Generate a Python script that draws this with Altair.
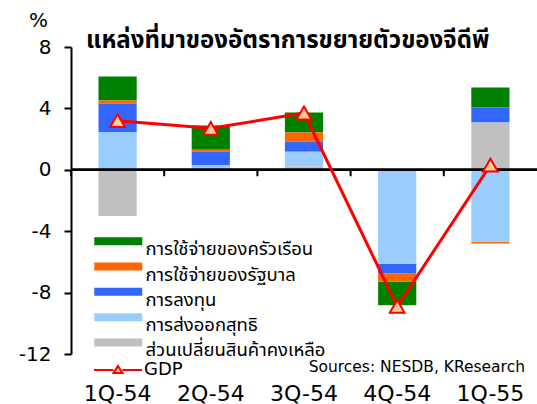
import altair as alt
import pandas as pd

quarters = ["1Q-54", "2Q-54", "3Q-54", "4Q-54", "1Q-55"]
household = [1.56, 1.58, 1.30, -1.54, 1.30]
government = [0.21, 0.11, 0.61, -0.54, -0.11]
investment = [1.85, 0.91, 0.65, -0.63, 0.98]
net_exports = [2.46, 0.28, 0.96, -6.12, -4.69]
inventory = [-3.01, 0.0, 0.21, 0.0, 3.08]
gdp = [3.2, 2.7, 3.7, -8.9, 0.3]

series_names = ["การใช้จ่ายของครัวเรือน", "การใช้จ่ายของรัฐบาล", "การลงทุน",
                "การส่งออกสุทธิ", "ส่วนเปลี่ยนสินค้าคงเหลือ"]
series_colors = ["#008000", "#FF6600", "#3366FF", "#99CCFF", "#C0C0C0"]
stack_order = [4, 3, 2, 1, 0]
title_text = "แหล่งที่มาของอัตราการขยายตัวของจีดีพี"
source_text = "Sources: NESDB, KResearch"
y_ticks = [-12, -8, -4, 0, 4, 8]

rows = []
for name, vals, order in zip(series_names,
                             [household, government, investment, net_exports, inventory],
                             stack_order):
    for q, v in zip(quarters, vals):
        rows.append({"q": q, "series": name, "value": v, "order": order})
bars_df = pd.DataFrame(rows)
gdp_df = pd.DataFrame({"q": quarters, "gdp": gdp, "series": ["GDP"] * len(quarters)})

FONT = "DejaVu Sans, Verdana, sans-serif"
THAI = "Tahoma, Noto Sans Thai, Loma, sans-serif"

xscale = alt.Scale(domain=quarters, paddingInner=0.59, paddingOuter=0.295)
yscale = alt.Scale(domain=[-12, 8], nice=False, zero=False)
yaxis = alt.Axis(values=y_ticks, grid=False, tickSize=7, tickWidth=2, domainWidth=2,
                 domainColor="black", tickColor="black", labelFontSize=20,
                 labelFont=FONT, labelColor="black", labelPadding=13,
                 labelExpr="replace(datum.label, '\u2212', '-')",
                 title="%", titleAngle=0, titleAlign="center", titleBaseline="middle",
                 titleX=-33, titleY=-27, titleFontSize=20, titleFontWeight="normal",
                 titleFont=FONT, titleColor="black")

label_axis = alt.Axis(title=None, labelAngle=0, domain=False, ticks=False,
                      labelFontSize=22, labelFont=FONT, labelColor="black",
                      labelPadding=29)

xenc = alt.X("q:N", sort=quarters, scale=xscale, axis=label_axis)

bars = alt.Chart(bars_df).mark_bar().encode(
    x=xenc,
    y=alt.Y("value:Q", stack="zero", scale=yscale, axis=yaxis),
    color=alt.Color("series:N",
                    scale=alt.Scale(domain=series_names, range=series_colors),
                    legend=alt.Legend(orient="none", legendX=38, legendY=193,
                                      title=None, direction="vertical",
                                      symbolType="M-6,-3H6V-1H-6Z",
                                      symbolSize=64, symbolStrokeWidth=0,
                                      symbolOpacity=1,
                                      labelFontSize=18.5, labelFont=THAI,
                                      labelColor="black", labelOffset=18,
                                      labelLimit=400,
                                      labelBaseline="middle", rowPadding=3.3,
                                      padding=0)),
    order=alt.Order("order:Q", sort="ascending"),
)

zero = alt.Chart(gdp_df).mark_rule(color="black", strokeWidth=2).encode(
    y=alt.datum(0, scale=yscale)
)

cat_ticks = alt.Chart(gdp_df).mark_rule(color="black", strokeWidth=2,
                                        xOffset=-46.6).encode(
    x=xenc,
    y=alt.datum(0, scale=yscale),
    y2=alt.datum(-0.42),
)

gdp_symbol = "M-6,0L-1.14,0M1.14,0L6,0M0,-1.02L1.14,0.78L-1.14,0.78Z"

line = alt.Chart(gdp_df).mark_line(strokeWidth=3).encode(
    x=xenc,
    y=alt.Y("gdp:Q", scale=yscale, axis=yaxis),
    stroke=alt.Stroke("series:N", scale=alt.Scale(domain=["GDP"], range=["#FF0000"]),
                      legend=alt.Legend(orient="none", legendX=38, legendY=314,
                                        title=None, symbolType=gdp_symbol,
                                        symbolSize=64, symbolStrokeWidth=2,
                                        symbolFillColor="#FFCC99",
                                        labelFontSize=18, labelFont=FONT,
                                        labelColor="black", labelOffset=17,
                                        labelBaseline="middle",
                                        padding=0)),
)

points = alt.Chart(gdp_df).mark_point(shape="triangle-up", filled=True,
                                      fill="#FFCC99", stroke="#FF0000",
                                      strokeWidth=2, opacity=1, size=220).encode(
    x=xenc,
    y=alt.Y("gdp:Q", scale=yscale, axis=yaxis),
)

title = alt.Chart(pd.DataFrame({"t": [title_text]})).mark_text(
    align="left", baseline="alphabetic", fontSize=24, fontWeight="bold",
    font=THAI, color="black").encode(
    text="t:N", x=alt.value(15), y=alt.value(1))

source = alt.Chart(pd.DataFrame({"t": [source_text]})).mark_text(
    align="right", baseline="middle", fontSize=15.5, font=FONT,
    color="black").encode(
    text="t:N", x=alt.value(454), y=alt.value(320))

chart = alt.layer(bars, zero, cat_ticks, line, points, title, source).resolve_legend(
    color="independent", stroke="independent"
).properties(
    width=466, height=307,
    autosize=alt.AutoSizeParams(type="none"),
    padding={"left": 71, "top": 47, "right": 0, "bottom": 50},
).configure_view(stroke=None)

chart.save("out.html", embed_options={"renderer": "svg", "actions": False})
